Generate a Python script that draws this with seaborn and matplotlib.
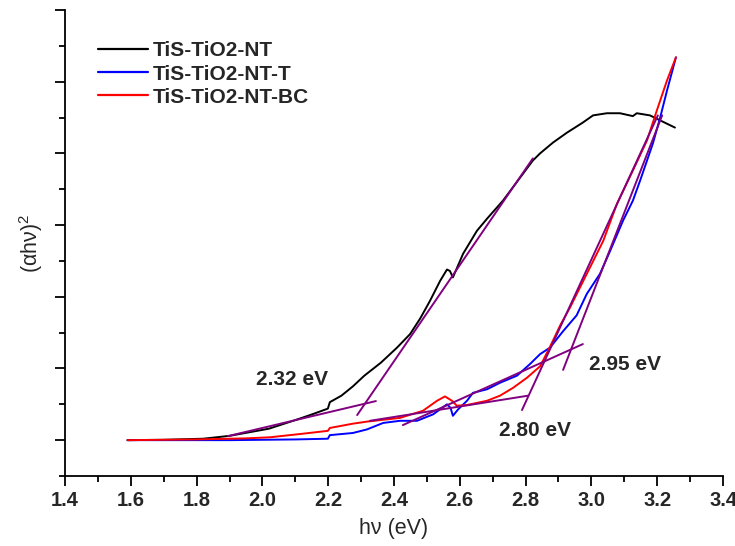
import numpy as np
import pandas as pd
import matplotlib
matplotlib.use("Agg")
import matplotlib.pyplot as plt
import seaborn as sns

# ---- data ----
series_names = ["TiS-TiO2-NT", "TiS-TiO2-NT-T", "TiS-TiO2-NT-BC"]
series_colors = ["#000000", "#0000ff", "#ff0000"]

nt_x = [1.59, 1.70, 1.82, 1.90, 1.96, 2.02, 2.06, 2.10, 2.145, 2.199, 2.205, 2.24, 2.275,
        2.31, 2.36, 2.409, 2.449, 2.48, 2.509, 2.54, 2.561, 2.570, 2.579, 2.61, 2.652,
        2.683, 2.731, 2.783, 2.822, 2.844, 2.883, 2.926, 2.974, 3.005, 3.047, 3.087,
        3.126, 3.138, 3.178, 3.209, 3.254]
nt_y = [0.0, 0.005, 0.02, 0.06, 0.11, 0.16, 0.22, 0.28, 0.35, 0.44, 0.53, 0.62, 0.75,
        0.90, 1.08, 1.29, 1.48, 1.70, 1.94, 2.22, 2.38, 2.36, 2.27, 2.60, 2.92,
        3.09, 3.34, 3.66, 3.90, 4.0, 4.15, 4.29, 4.43, 4.53, 4.56, 4.56,
        4.52, 4.56, 4.53, 4.46, 4.36]

t_x = [1.59, 1.90, 2.10, 2.199, 2.205, 2.275, 2.318, 2.367, 2.418, 2.47, 2.519, 2.561,
       2.572, 2.579, 2.595, 2.622, 2.64, 2.683, 2.722, 2.774, 2.813, 2.844, 2.874, 2.914,
       2.955, 2.986, 3.026, 3.057, 3.096, 3.126, 3.148, 3.187, 3.209, 3.23, 3.257]
t_y = [0.0, 0.0, 0.01, 0.02, 0.07, 0.10, 0.15, 0.24, 0.27, 0.27, 0.36, 0.50,
       0.45, 0.34, 0.43, 0.55, 0.66, 0.71, 0.80, 0.90, 1.06, 1.20, 1.29, 1.52,
       1.74, 2.04, 2.32, 2.64, 3.06, 3.34, 3.62, 4.14, 4.50, 4.88, 5.34]

bc_x = [1.59, 1.80, 1.95, 2.023, 2.123, 2.199, 2.205, 2.275, 2.32, 2.418, 2.488, 2.531,
        2.555, 2.576, 2.591, 2.622, 2.683, 2.722, 2.762, 2.804, 2.844, 2.874, 2.905,
        2.935, 2.986, 3.036, 3.078, 3.126, 3.169, 3.199, 3.23, 3.257]
bc_y = [0.0, 0.01, 0.025, 0.04, 0.09, 0.13, 0.17, 0.23, 0.26, 0.31, 0.41, 0.55,
        0.61, 0.55, 0.48, 0.49, 0.55, 0.62, 0.73, 0.87, 1.03, 1.30, 1.60,
        1.85, 2.32, 2.78, 3.30, 3.76, 4.18, 4.60, 5.02, 5.34]

# tangent segments (x0, x1), (y0, y1)
tangent_x = [(2.288, 2.822), (1.895, 2.345), (2.789, 3.202), (2.327, 2.807), (2.914, 3.215), (2.427, 2.974)]
tangent_y = [(0.35, 3.93), (0.056, 0.545), (0.42, 4.53), (0.27, 0.62), (0.98, 4.53), (0.21, 1.34)]
tangent_color = "#800080"

gap_labels = ["2.32 eV", "2.80 eV", "2.95 eV"]
gap_label_x = [2.09, 2.829, 3.102]
gap_label_y = [0.85, 0.13, 1.06]

x_ticks = [1.4, 1.6, 1.8, 2.0, 2.2, 2.4, 2.6, 2.8, 3.0, 3.2, 3.4]

# ---- build long-form frame ----
frames = []
for name, xs, ys in zip(series_names, [nt_x, t_x, bc_x], [nt_y, t_y, bc_y]):
    frames.append(pd.DataFrame({"x": xs, "y": ys, "sample": name}))
df = pd.concat(frames, ignore_index=True)

sns.set_style("ticks")
plt.rcParams["font.family"] = ["Liberation Sans", "DejaVu Sans"]
plt.rcParams["mathtext.fontset"] = "custom"
plt.rcParams["mathtext.rm"] = "Liberation Sans"

fig = plt.figure(figsize=(7.35, 5.46), dpi=100)
ax = fig.add_axes([65 / 735, 1 - 476 / 546, (723 - 65) / 735, (476 - 10) / 546])

sns.lineplot(data=df, x="x", y="y", hue="sample", hue_order=series_names,
             palette=dict(zip(series_names, series_colors)), sort=False,
             estimator=None, linewidth=1.4, ax=ax)

for (x0, x1), (y0, y1) in zip(tangent_x, tangent_y):
    ax.plot([x0, x1], [y0, y1], color=tangent_color, linewidth=1.4, zorder=3)

for txt, tx, ty in zip(gap_labels, gap_label_x, gap_label_y):
    ax.text(tx, ty, txt, ha="center", va="center", fontsize=15, fontweight="bold")

ax.set_xlim(1.4, 3.4)
ax.set_ylim(-0.5, 6.0)
ax.set_xticks(x_ticks)
ax.set_xticklabels([f"{v:.1f}" for v in x_ticks], fontsize=14.5, fontweight="bold")
ax.set_xticks(np.arange(1.5, 3.4, 0.2), minor=True)
ax.set_yticks(range(0, 7))
ax.set_yticklabels([])
ax.set_yticks(np.arange(-0.5, 6.0, 1.0), minor=True)
ax.tick_params(axis="both", which="major", direction="out", length=7, width=1.3, color="black")
ax.tick_params(axis="both", which="minor", direction="out", length=4, width=1.3, color="black")
for s in ["left", "bottom"]:
    ax.spines[s].set_linewidth(1.3)
    ax.spines[s].set_color("black")
sns.despine(ax=ax)

ax.set_xlabel("hν (eV)", fontsize=15.5, labelpad=6)
ax.set_ylabel("(αhν)$^2$", fontsize=15.5, labelpad=4)

leg = ax.legend(loc="upper left", bbox_to_anchor=(0.035, 0.955), frameon=False,
                prop={"size": 15, "weight": "bold"}, handlelength=2.4,
                handletextpad=0.2, labelspacing=0.2, borderpad=0)
for line in leg.get_lines():
    line.set_linewidth(1.6)

fig.savefig("out.png", dpi=100)
